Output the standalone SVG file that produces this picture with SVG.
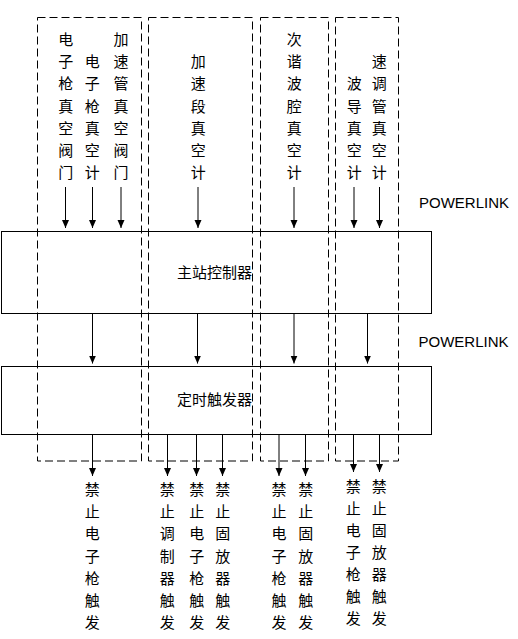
<svg xmlns="http://www.w3.org/2000/svg" width="518" height="639" viewBox="0 0 518 639">
<style>
.box{fill:none;stroke:#000;stroke-width:1}
.grp{fill:none;stroke:#000;stroke-width:1;stroke-dasharray:8 4}
.cn{font-family:"Noto Sans CJK SC","Noto Sans CJK JP",sans-serif;font-size:15px;fill:#000;text-anchor:middle}
.en{font-family:"Liberation Sans",Arial,sans-serif;font-size:15px;fill:#000}
.ar{stroke:#000;stroke-width:1;fill:none;marker-end:url(#ah)}
</style>
<defs>
<marker id="ah" markerWidth="8" markerHeight="8" viewBox="0 0 8 8" refX="8" refY="4" orient="auto" markerUnits="userSpaceOnUse"><path d="M0,0.5 L8,4 L0,7.5 Z" fill="#000"/></marker>
</defs>
<rect width="518" height="639" fill="#fff"/>
<g id="master">
<rect class="box" x="1.5" y="231.5" width="430" height="82"/>
<text class="cn" x="214.5" y="277.5">主站控制器</text>
</g>
<g id="timer">
<rect class="box" x="1.5" y="366.5" width="430" height="68"/>
<text class="cn" x="214.5" y="405">定时触发器</text>
</g>
<g id="group1"><rect class="grp" x="37.5" y="17.5" width="104" height="443.5"/></g>
<g id="group2"><rect class="grp" x="148.5" y="17.5" width="104" height="443.5"/></g>
<g id="group3"><rect class="grp" x="260.5" y="17.5" width="68" height="443.5"/></g>
<g id="group4"><rect class="grp" x="335.5" y="17.5" width="63" height="443.5"/></g>
<g id="in1"><text class="cn" x="65.7" y="44.9"><tspan x="65.7">电</tspan><tspan x="65.7" dy="22.2">子</tspan><tspan x="65.7" dy="22.2">枪</tspan><tspan x="65.7" dy="22.2">真</tspan><tspan x="65.7" dy="22.2">空</tspan><tspan x="65.7" dy="22.2">阀</tspan><tspan x="65.7" dy="22.2">门</tspan></text></g>
<g id="in2"><text class="cn" x="92.3" y="67.1"><tspan x="92.3">电</tspan><tspan x="92.3" dy="22.2">子</tspan><tspan x="92.3" dy="22.2">枪</tspan><tspan x="92.3" dy="22.2">真</tspan><tspan x="92.3" dy="22.2">空</tspan><tspan x="92.3" dy="22.2">计</tspan></text></g>
<g id="in3"><text class="cn" x="121" y="44.9"><tspan x="121">加</tspan><tspan x="121" dy="22.2">速</tspan><tspan x="121" dy="22.2">管</tspan><tspan x="121" dy="22.2">真</tspan><tspan x="121" dy="22.2">空</tspan><tspan x="121" dy="22.2">阀</tspan><tspan x="121" dy="22.2">门</tspan></text></g>
<g id="in4"><text class="cn" x="198.3" y="67.1"><tspan x="198.3">加</tspan><tspan x="198.3" dy="22.2">速</tspan><tspan x="198.3" dy="22.2">段</tspan><tspan x="198.3" dy="22.2">真</tspan><tspan x="198.3" dy="22.2">空</tspan><tspan x="198.3" dy="22.2">计</tspan></text></g>
<g id="in5"><text class="cn" x="294.3" y="44.9"><tspan x="294.3">次</tspan><tspan x="294.3" dy="22.2">谐</tspan><tspan x="294.3" dy="22.2">波</tspan><tspan x="294.3" dy="22.2">腔</tspan><tspan x="294.3" dy="22.2">真</tspan><tspan x="294.3" dy="22.2">空</tspan><tspan x="294.3" dy="22.2">计</tspan></text></g>
<g id="in6"><text class="cn" x="354.3" y="89.3"><tspan x="354.3">波</tspan><tspan x="354.3" dy="22.2">导</tspan><tspan x="354.3" dy="22.2">真</tspan><tspan x="354.3" dy="22.2">空</tspan><tspan x="354.3" dy="22.2">计</tspan></text></g>
<g id="in7"><text class="cn" x="379.3" y="67.1"><tspan x="379.3">速</tspan><tspan x="379.3" dy="22.2">调</tspan><tspan x="379.3" dy="22.2">管</tspan><tspan x="379.3" dy="22.2">真</tspan><tspan x="379.3" dy="22.2">空</tspan><tspan x="379.3" dy="22.2">计</tspan></text></g>
<g id="out1"><text class="cn" x="92.3" y="494.9"><tspan x="92.3">禁</tspan><tspan x="92.3" dy="22.2">止</tspan><tspan x="92.3" dy="22.2">电</tspan><tspan x="92.3" dy="22.2">子</tspan><tspan x="92.3" dy="22.2">枪</tspan><tspan x="92.3" dy="22.2">触</tspan><tspan x="92.3" dy="22.2">发</tspan></text></g>
<g id="out2"><text class="cn" x="167.3" y="494.9"><tspan x="167.3">禁</tspan><tspan x="167.3" dy="22.2">止</tspan><tspan x="167.3" dy="22.2">调</tspan><tspan x="167.3" dy="22.2">制</tspan><tspan x="167.3" dy="22.2">器</tspan><tspan x="167.3" dy="22.2">触</tspan><tspan x="167.3" dy="22.2">发</tspan></text></g>
<g id="out3"><text class="cn" x="196.7" y="494.9"><tspan x="196.7">禁</tspan><tspan x="196.7" dy="22.2">止</tspan><tspan x="196.7" dy="22.2">电</tspan><tspan x="196.7" dy="22.2">子</tspan><tspan x="196.7" dy="22.2">枪</tspan><tspan x="196.7" dy="22.2">触</tspan><tspan x="196.7" dy="22.2">发</tspan></text></g>
<g id="out4"><text class="cn" x="222.7" y="494.9"><tspan x="222.7">禁</tspan><tspan x="222.7" dy="22.2">止</tspan><tspan x="222.7" dy="22.2">固</tspan><tspan x="222.7" dy="22.2">放</tspan><tspan x="222.7" dy="22.2">器</tspan><tspan x="222.7" dy="22.2">触</tspan><tspan x="222.7" dy="22.2">发</tspan></text></g>
<g id="out5"><text class="cn" x="279" y="494.9"><tspan x="279">禁</tspan><tspan x="279" dy="22.2">止</tspan><tspan x="279" dy="22.2">电</tspan><tspan x="279" dy="22.2">子</tspan><tspan x="279" dy="22.2">枪</tspan><tspan x="279" dy="22.2">触</tspan><tspan x="279" dy="22.2">发</tspan></text></g>
<g id="out6"><text class="cn" x="305.7" y="494.9"><tspan x="305.7">禁</tspan><tspan x="305.7" dy="22.2">止</tspan><tspan x="305.7" dy="22.2">固</tspan><tspan x="305.7" dy="22.2">放</tspan><tspan x="305.7" dy="22.2">器</tspan><tspan x="305.7" dy="22.2">触</tspan><tspan x="305.7" dy="22.2">发</tspan></text></g>
<g id="out7"><text class="cn" x="353.3" y="492.3"><tspan x="353.3">禁</tspan><tspan x="353.3" dy="21.95">止</tspan><tspan x="353.3" dy="21.95">电</tspan><tspan x="353.3" dy="21.95">子</tspan><tspan x="353.3" dy="21.95">枪</tspan><tspan x="353.3" dy="21.95">触</tspan><tspan x="353.3" dy="21.95">发</tspan></text></g>
<g id="out8"><text class="cn" x="379.3" y="492.3"><tspan x="379.3">禁</tspan><tspan x="379.3" dy="21.95">止</tspan><tspan x="379.3" dy="21.95">固</tspan><tspan x="379.3" dy="21.95">放</tspan><tspan x="379.3" dy="21.95">器</tspan><tspan x="379.3" dy="21.95">触</tspan><tspan x="379.3" dy="21.95">发</tspan></text></g>
<g id="labels">
<text class="en" x="419" y="207.5">POWERLINK</text>
<text class="en" x="418.5" y="347">POWERLINK</text>
</g>
<g id="connectors">
<line class="ar" x1="65.5" y1="187" x2="65.5" y2="228"/>
<line class="ar" x1="92.5" y1="187" x2="92.5" y2="228"/>
<line class="ar" x1="121" y1="187" x2="121" y2="228"/>
<line class="ar" x1="198" y1="187" x2="198" y2="228"/>
<line class="ar" x1="294" y1="187" x2="294" y2="228"/>
<line class="ar" x1="354" y1="187" x2="354" y2="228"/>
<line class="ar" x1="379.5" y1="187" x2="379.5" y2="228"/>
<line class="ar" x1="92.5" y1="313.5" x2="92.5" y2="363.5"/>
<line class="ar" x1="197.5" y1="313.5" x2="197.5" y2="363.5"/>
<line class="ar" x1="294" y1="313.5" x2="294" y2="363.5"/>
<line class="ar" x1="367.5" y1="313.5" x2="367.5" y2="363.5"/>
<line class="ar" x1="92.5" y1="434.5" x2="92.5" y2="476"/>
<line class="ar" x1="167.5" y1="434.5" x2="167.5" y2="476"/>
<line class="ar" x1="196.5" y1="434.5" x2="196.5" y2="476"/>
<line class="ar" x1="222.5" y1="434.5" x2="222.5" y2="476"/>
<line class="ar" x1="279" y1="434.5" x2="279" y2="476"/>
<line class="ar" x1="305.5" y1="434.5" x2="305.5" y2="476"/>
<line class="ar" x1="353.5" y1="434.5" x2="353.5" y2="472"/>
<line class="ar" x1="379.5" y1="434.5" x2="379.5" y2="472"/>
</g>
</svg>
